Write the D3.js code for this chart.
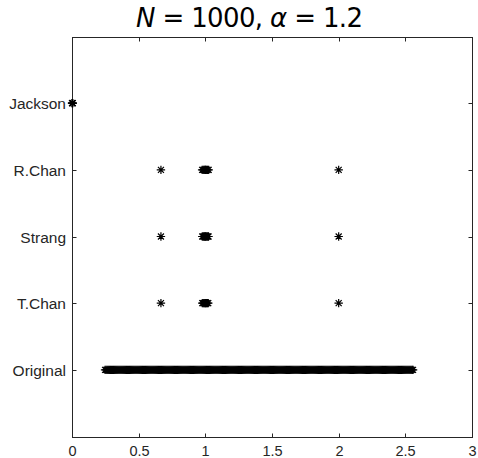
<!DOCTYPE html>
<html>
<head>
<meta charset="utf-8">
<script src="https://cdn.jsdelivr.net/npm/d3@7"></script>
<style>
  html, body { margin: 0; padding: 0; background: #fff; }
  svg { display: block; }
</style>
</head>
<body>
<div id="chart"></div>
<script>
// Preconditioner spectra, N = 1000, alpha = 1.2
const categories = ["Jackson", "R.Chan", "Strang", "T.Chan", "Original"];

const jacksonValues = [0.000, 0.002, 0.004, 0.006];
const rchanValues   = [0.667, 0.976, 0.984, 0.991, 0.997, 1.000, 1.004, 1.010, 1.017, 1.025, 2.000];
const strangValues  = [0.667, 0.977, 0.985, 0.992, 0.997, 1.000, 1.005, 1.011, 1.018, 1.024, 2.000];
const tchanValues   = [0.667, 0.977, 0.984, 0.990, 0.996, 1.000, 1.004, 1.009, 1.016, 1.022, 2.000];
const originalValues = [
  0.248, 0.256, 0.264, 0.272, 0.280, 0.288, 0.296, 0.304, 0.312, 0.320,
  0.328, 0.336, 0.344, 0.352, 0.360, 0.368, 0.376, 0.384, 0.392, 0.400,
  0.408, 0.416, 0.424, 0.432, 0.440, 0.448, 0.456, 0.464, 0.472, 0.480,
  0.488, 0.496, 0.504, 0.512, 0.520, 0.528, 0.536, 0.544, 0.552, 0.560,
  0.568, 0.576, 0.584, 0.592, 0.600, 0.608, 0.616, 0.624, 0.632, 0.640,
  0.648, 0.656, 0.664, 0.672, 0.680, 0.688, 0.696, 0.704, 0.712, 0.720,
  0.728, 0.736, 0.744, 0.752, 0.760, 0.768, 0.776, 0.784, 0.792, 0.800,
  0.808, 0.816, 0.824, 0.832, 0.840, 0.848, 0.856, 0.864, 0.872, 0.880,
  0.888, 0.896, 0.904, 0.912, 0.920, 0.928, 0.936, 0.944, 0.952, 0.960,
  0.968, 0.976, 0.984, 0.992, 1.000, 1.008, 1.016, 1.024, 1.032, 1.040,
  1.048, 1.056, 1.064, 1.072, 1.080, 1.088, 1.096, 1.104, 1.112, 1.120,
  1.128, 1.136, 1.144, 1.152, 1.160, 1.168, 1.176, 1.184, 1.192, 1.200,
  1.208, 1.216, 1.224, 1.232, 1.240, 1.248, 1.256, 1.264, 1.272, 1.280,
  1.288, 1.296, 1.304, 1.312, 1.320, 1.328, 1.336, 1.344, 1.352, 1.360,
  1.368, 1.376, 1.384, 1.392, 1.400, 1.408, 1.416, 1.424, 1.432, 1.440,
  1.448, 1.456, 1.464, 1.472, 1.480, 1.488, 1.496, 1.504, 1.512, 1.520,
  1.528, 1.536, 1.544, 1.552, 1.560, 1.568, 1.576, 1.584, 1.592, 1.600,
  1.608, 1.616, 1.624, 1.632, 1.640, 1.648, 1.656, 1.664, 1.672, 1.680,
  1.688, 1.696, 1.704, 1.712, 1.720, 1.728, 1.736, 1.744, 1.752, 1.760,
  1.768, 1.776, 1.784, 1.792, 1.800, 1.808, 1.816, 1.824, 1.832, 1.840,
  1.848, 1.856, 1.864, 1.872, 1.880, 1.888, 1.896, 1.904, 1.912, 1.920,
  1.928, 1.936, 1.944, 1.952, 1.960, 1.968, 1.976, 1.984, 1.992, 2.000,
  2.008, 2.016, 2.024, 2.032, 2.040, 2.048, 2.056, 2.064, 2.072, 2.080,
  2.088, 2.096, 2.104, 2.112, 2.120, 2.128, 2.136, 2.144, 2.152, 2.160,
  2.168, 2.176, 2.184, 2.192, 2.200, 2.208, 2.216, 2.224, 2.232, 2.240,
  2.248, 2.256, 2.264, 2.272, 2.280, 2.288, 2.296, 2.304, 2.312, 2.320,
  2.328, 2.336, 2.344, 2.352, 2.360, 2.368, 2.376, 2.384, 2.392, 2.400,
  2.408, 2.416, 2.424, 2.432, 2.440, 2.448, 2.456, 2.464, 2.472, 2.480,
  2.488, 2.496, 2.504, 2.512, 2.520, 2.528, 2.536, 2.544, 2.552, 2.558
];
const seriesValues = [jacksonValues, rchanValues, strangValues, tchanValues, originalValues];

const xTicks = [0, 0.5, 1, 1.5, 2, 2.5, 3];
const xTickLabels = ["0", "0.5", "1", "1.5", "2", "2.5", "3"];

const W = 478, H = 458;
const margin = { left: 72, right: 6, top: 36.5, bottom: 21.5 };
const innerW = W - margin.left - margin.right;
const innerH = H - margin.top - margin.bottom;
const axisColor = "#262626";
const labelFont = "'Liberation Sans', Arial, Helvetica, sans-serif";

const svg = d3.select("#chart").append("svg")
  .attr("width", W).attr("height", H);

const x = d3.scaleLinear().domain([0, 3]).range([margin.left, margin.left + innerW]);
// categories sit at 1..5 on a 0..6 vertical range
const y = d3.scaleLinear().domain([0, 6]).range([margin.top, margin.top + innerH]);
const yPos = (i) => Math.round(y(i + 1)) + 0.5;

// Title
const title = svg.append("text")
  .attr("x", 136)
  .attr("y", 27)
  .attr("text-anchor", "start")
  .attr("textLength", 227)
  .attr("lengthAdjust", "spacing")
  .style("font-family", "'DejaVu Sans', sans-serif")
  .style("font-size", "26px")
  .attr("fill", "#000");
title.append("tspan").style("font-style", "italic").text("N");
title.append("tspan").text(" = 1000,  ");
title.append("tspan").style("font-style", "italic").text("α");
title.append("tspan").text(" = 1.2");

// Axes box
const g = svg.append("g");
const x0 = Math.round(x(0)) + 0.5, x1 = Math.round(x(3)) + 0.5;
const y0 = Math.round(margin.top) + 0.5, y1 = Math.round(margin.top + innerH) + 0.5;
g.append("rect")
  .attr("x", x0).attr("y", y0)
  .attr("width", x1 - x0).attr("height", y1 - y0)
  .attr("fill", "none").attr("stroke", axisColor).attr("stroke-width", 1);

const tickLen = 4;
// x ticks, bottom and top
xTicks.forEach((t, i) => {
  const xp = Math.round(x(t)) + 0.5;
  g.append("line").attr("x1", xp).attr("x2", xp).attr("y1", y1).attr("y2", y1 - tickLen)
    .attr("stroke", axisColor);
  g.append("line").attr("x1", xp).attr("x2", xp).attr("y1", y0).attr("y2", y0 + tickLen)
    .attr("stroke", axisColor);
  g.append("text")
    .attr("x", xp).attr("y", 456)
    .attr("text-anchor", "middle")
    .style("font-family", labelFont)
    .style("font-size", "14.5px")
    .attr("fill", axisColor)
    .text(xTickLabels[i]);
});

// y ticks, left and right, with category labels
categories.forEach((c, i) => {
  const yp = yPos(i);
  g.append("line").attr("x1", x0).attr("x2", x0 + tickLen).attr("y1", yp).attr("y2", yp)
    .attr("stroke", axisColor);
  g.append("line").attr("x1", x1).attr("x2", x1 - tickLen).attr("y1", yp).attr("y2", yp)
    .attr("stroke", axisColor);
  g.append("text")
    .attr("x", 66).attr("y", yp + 5)
    .attr("text-anchor", "end")
    .style("font-family", labelFont)
    .style("font-size", "15.5px")
    .attr("fill", axisColor)
    .text(c);
});

// Asterisk marker
const r = 4.2, d = 3.0;
const star = `M${-r},0L${r},0M0,${-r}L0,${r}M${-d},${-d}L${d},${d}M${-d},${d}L${d},${-d}`;

const marks = svg.append("g");
seriesValues.forEach((vals, i) => {
  marks.selectAll(null)
    .data(vals)
    .enter().append("path")
    .attr("d", star)
    .attr("transform", v => `translate(${x(v)},${y(i + 1)})`)
    .attr("fill", "none")
    .attr("stroke", "#000")
    .attr("stroke-width", 1.2);
});
</script>
</body>
</html>
